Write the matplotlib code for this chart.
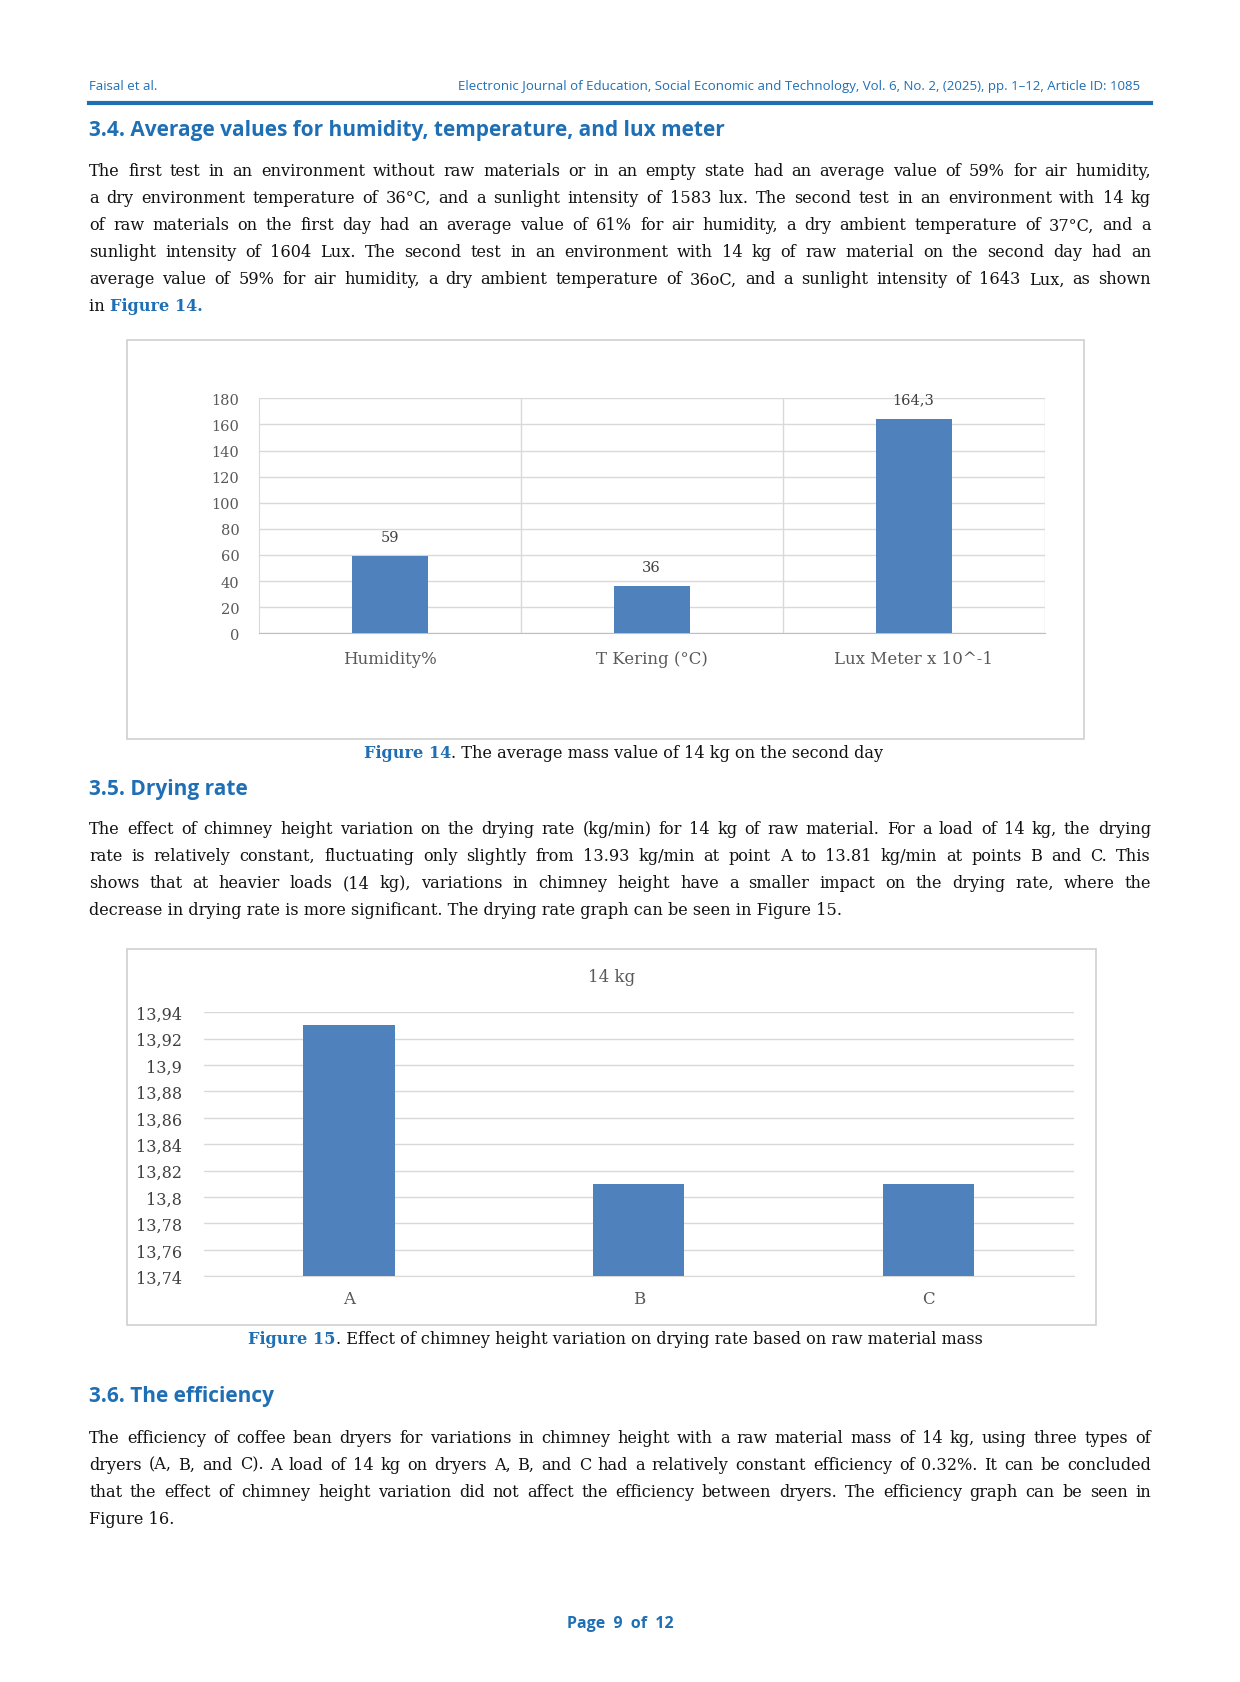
import matplotlib
matplotlib.use("Agg")
import matplotlib.pyplot as plt
from matplotlib.patches import Rectangle
from matplotlib.lines import Line2D

W, H = 1155.0, 1568.0
def fx(x): return x / W
def fy(y): return 1 - y / H

cats1 = ["Humidity%", "T Kering (°C)", "Lux Meter x 10^-1"]
vals1 = [59, 36, 164.3]
labels1 = ["59", "36", "164,3"]
ticks1 = [0, 20, 40, 60, 80, 100, 120, 140, 160, 180]

cats2 = ["A", "B", "C"]
vals2 = [13.93, 13.81, 13.81]
ticks2 = [13.74, 13.76, 13.78, 13.80, 13.82, 13.84, 13.86, 13.88, 13.90, 13.92, 13.94]
ticklab2 = ["13,74", "13,76", "13,78", "13,8", "13,82", "13,84", "13,86", "13,88", "13,9", "13,92", "13,94"]

BLUE = "#1F6FB5"
BAR = "#4F81BD"
SERIF = ["DejaVu Serif"]
SANS = ["Open Sans", "DejaVu Sans"]
PFS = 11.6

fig = plt.figure(figsize=(12.4, 16.83), dpi=100)
renderer = fig.canvas.get_renderer()
figw_px = fig.get_figwidth() * fig.dpi

def txt(x, y, s, **kw):
    kw.setdefault("va", "center")
    return fig.text(fx(x), fy(y), s, **kw)

def width_disp(t):
    # width in displayed units
    bb = t.get_window_extent(renderer=renderer)
    return bb.width / figw_px * W

def runs(x, y, parts):
    for s, kw in parts:
        t = txt(x, y, s, **kw)
        x += width_disp(t)

def justify(y, line, x0=83, x1=1072, **kw):
    words = line.split(" ")
    ts = [txt(0, y, w, **kw) for w in words]
    ws = [width_disp(t) for t in ts]
    gap = (x1 - x0 - sum(ws)) / max(len(words) - 1, 1)
    x = x0
    for t, w in zip(ts, ws):
        t.set_x(fx(x))
        x += w + gap

# header
txt(83, 81, "Faisal et al.", family=SANS, fontsize=9.5, color=BLUE)
txt(1062, 81, "Electronic Journal of Education, Social Economic and Technology, Vol. 6, No. 2, (2025), pp. 1–12, Article ID: 1085",
    family=SANS, fontsize=9.5, color=BLUE, ha="right")
fig.add_artist(Line2D([fx(83), fx(1072)], [fy(97), fy(97)], color="#1F6FB5", lw=3))

def heading(y, s):
    txt(83, y, s, family=SANS, fontsize=15, color=BLUE, weight="bold")

PK = dict(family=SERIF, fontsize=PFS, color="#111111")
def para(y0, lines, last_justify=False):
    for i, l in enumerate(lines):
        y = y0 + 25.2 * i
        if i < len(lines) - 1 or last_justify:
            justify(y, l, **PK)
        else:
            txt(83, y, l, **PK)

heading(122, "3.4. Average values for humidity, temperature, and lux meter")
para(160, [
    "The first test in an environment without raw materials or in an empty state had an average value of 59% for air humidity,",
    "a dry environment temperature of 36°C, and a sunlight intensity of 1583 lux. The second test in an environment with 14 kg",
    "of raw materials on the first day had an average value of 61% for air humidity, a dry ambient temperature of 37°C, and a",
    "sunlight intensity of 1604 Lux. The second test in an environment with 14 kg of raw material on the second day had an",
    "average value of 59% for air humidity, a dry ambient temperature of 36oC, and a sunlight intensity of 1643 Lux, as shown",
], last_justify=True)
runs(83, 286, [("in ", PK), ("Figure 14.", dict(family=SERIF, fontsize=PFS, color=BLUE, weight="bold"))])

# chart 1 box
fig.add_artist(Rectangle((fx(118), fy(689)), fx(1010) - fx(118), fy(318) - fy(689),
                         transform=fig.transFigure, fill=False, ec="#D0D0D0", lw=1.2))
ax1 = fig.add_axes([fx(241), fy(591), fx(973) - fx(241), fy(372) - fy(591)])
x1 = range(len(cats1))
ax1.bar(x1, vals1, width=0.29, color=BAR, zorder=3)
ax1.set_xlim(-0.5, 2.5)
ax1.set_ylim(0, 180)
ax1.set_yticks(ticks1)
ax1.set_xticks(list(x1))
ax1.set_xticklabels(cats1, family=SERIF, fontsize=12, color="#595959")
ax1.tick_params(axis="y", labelsize=10.5, colors="#595959", length=0, pad=14)
ax1.tick_params(axis="x", length=0, pad=12)
for t in ax1.get_yticklabels(): t.set_family(SERIF)
ax1.grid(axis="y", color="#D9D9D9", lw=1, zorder=0)
for xv in (0.5, 1.5, 2.5):
    ax1.axvline(xv, color="#D9D9D9", lw=1, zorder=0)
for s in ("top", "right"):
    ax1.spines[s].set_visible(False)
ax1.spines["left"].set_color("#D9D9D9")
ax1.spines["bottom"].set_color("#BFBFBF")
for xi, v, l in zip(x1, vals1, labels1):
    ax1.annotate(l, (xi, v), xytext=(0, 9), textcoords="offset points", ha="center", va="bottom",
                 family=SERIF, fontsize=10.5, color="#404040")

CB = dict(family=SERIF, fontsize=PFS, color=BLUE, weight="bold")
runs(339, 702, [("Figure 14", CB), (". The average mass value of 14 kg on the second day", PK)])

heading(736, "3.5. Drying rate")
para(773, [
    "The effect of chimney height variation on the drying rate (kg/min) for 14 kg of raw material. For a load of 14 kg, the drying",
    "rate is relatively constant, fluctuating only slightly from 13.93 kg/min at point A to 13.81 kg/min at points B and C. This",
    "shows that at heavier loads (14 kg), variations in chimney height have a smaller impact on the drying rate, where the",
    "decrease in drying rate is more significant. The drying rate graph can be seen in Figure 15.",
])

# chart 2 box
fig.add_artist(Rectangle((fx(118), fy(1235)), fx(1021) - fx(118), fy(885) - fy(1235),
                         transform=fig.transFigure, fill=False, ec="#D0D0D0", lw=1.2))
txt(570, 911, "14 kg", family=SERIF, fontsize=12, color="#595959", ha="center")
ax2 = fig.add_axes([fx(190), fy(1190), fx(1000) - fx(190), fy(944) - fy(1190)])
x2 = range(len(cats2))
ax2.bar(x2, [v - 13.74 for v in vals2], bottom=13.74, width=0.315, color=BAR, zorder=3)
ax2.set_xlim(-0.5, 2.5)
ax2.set_ylim(13.74, 13.94)
ax2.set_yticks(ticks2)
ax2.set_yticklabels(ticklab2, family=SERIF, fontsize=11.5, color="#404040")
ax2.set_xticks(list(x2))
ax2.set_xticklabels(cats2, family=SERIF, fontsize=12, color="#595959")
ax2.tick_params(axis="y", length=0, pad=16)
ax2.tick_params(axis="x", length=0, pad=10)
ax2.grid(axis="y", color="#D9D9D9", lw=1, zorder=0)
for s in ("top", "right", "left"):
    ax2.spines[s].set_visible(False)
ax2.spines["bottom"].set_color("#D9D9D9")

runs(231, 1248, [("Figure 15", CB), (". Effect of chimney height variation on drying rate based on raw material mass", PK)])

heading(1301, "3.6. The efficiency")
para(1340, [
    "The efficiency of coffee bean dryers for variations in chimney height with a raw material mass of 14 kg, using three types of",
    "dryers (A, B, and C). A load of 14 kg on dryers A, B, and C had a relatively constant efficiency of 0.32%. It can be concluded",
    "that the effect of chimney height variation did not affect the efficiency between dryers. The efficiency graph can be seen in",
    "Figure 16.",
])

txt(578, 1513, "Page  9  of  12", family=SANS, fontsize=11.5, color=BLUE, weight="bold", ha="center")

fig.savefig("out.png", dpi=100, facecolor="white")
